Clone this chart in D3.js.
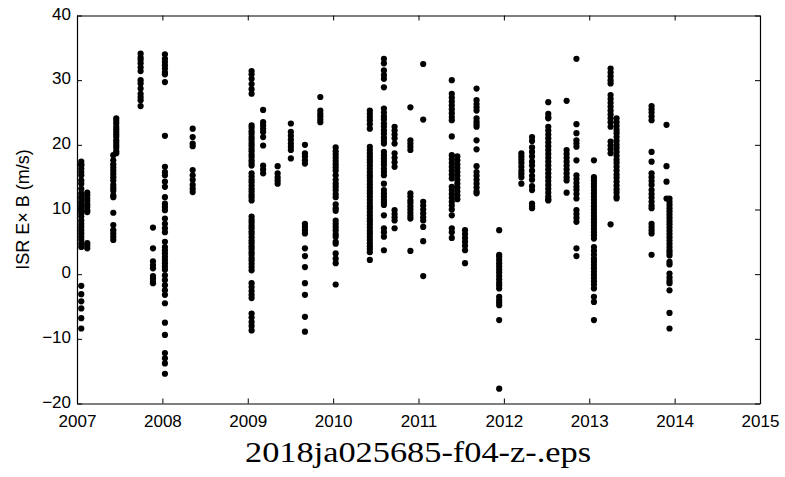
<!DOCTYPE html>
<html>
<head>
<meta charset="utf-8">
<script src="https://cdn.jsdelivr.net/npm/d3@7"></script>
<style>
  html, body { margin: 0; padding: 0; background: #fff; }
  svg { display: block; }
</style>
</head>
<body>
<svg id="chart" width="785" height="477"></svg>
<script>
// Observation campaigns: decimal-year epoch of each campaign
const epochs = [
  2007.05, 2007.12, 2007.425, 2007.46, 2007.745, 2007.89, 2008.03, 2008.355,
  2009.045, 2009.18, 2009.35, 2009.505, 2009.67, 2009.85, 2010.03, 2010.43,
  2010.595, 2010.72, 2010.905, 2011.055, 2011.39, 2011.455, 2011.545, 2011.68,
  2011.945, 2012.205, 2012.33, 2012.52, 2012.735, 2012.85, 2013.055, 2013.25,
  2013.32, 2013.73, 2013.905, 2013.94
];

// ISR E×B drift (m/s) measured during each campaign
const drifts = [
  [17.4, 17.0, 16.8, 16.3, 15.8, 15.3, 14.5, 14.0, 13.2, 12.5, 12.0, 11.7, 11.2, 10.9, 10.5, 10.2, 9.8, 9.4, 8.9, 8.3, 7.8, 7.3, 6.8, 6.3, 5.8, 5.3, 4.7, 4.2, -1.8, -3.1, -4.2, -5.3, -6.8, -8.4],
  [12.6, 12.2, 11.7, 11.3, 10.8, 10.4, 9.9, 9.6, 4.8, 4.4, 4.0],
  [18.4, 17.6, 17.0, 16.5, 16.0, 15.5, 15.0, 14.5, 13.8, 13.3, 12.9, 12.2, 11.9, 9.5, 7.6, 6.8, 6.3, 5.8, 5.3],
  [24.1, 23.7, 23.3, 22.8, 22.4, 22.0, 21.6, 21.2, 20.7, 20.3, 19.9, 19.5, 19.0, 18.7],
  [34.1, 33.5, 33.1, 32.6, 32.0, 31.4, 30.0, 29.5, 28.7, 27.9, 27.4, 26.9, 26.0],
  [7.2, 4.0, 2.0, 1.4, 0.9, -0.3, -0.7, -1.2, -1.4],
  [34.0, 33.3, 32.8, 32.3, 31.8, 31.2, 30.9, 29.7, 21.4, 16.6, 15.8, 15.3, 14.3, 13.5, 11.9, 10.9, 10.4, 9.9, 8.6, 7.8, 7.1, 6.5, 5.0, 4.2, 3.7, 3.2, 2.7, 2.2, 1.7, 1.2, 0.7, -0.2, -0.9, -1.7, -2.5, -3.2, -4.5, -7.5, -9.4, -12.2, -13.0, -13.8, -15.4],
  [22.5, 21.2, 20.2, 19.8, 16.1, 15.3, 14.6, 13.8, 13.2, 12.7],
  [31.4, 30.9, 30.2, 29.4, 28.6, 27.9, 23.0, 22.6, 22.1, 21.7, 21.2, 20.8, 20.3, 19.9, 19.4, 19.0, 18.5, 18.1, 17.6, 17.2, 16.8, 15.6, 15.1, 14.6, 14.2, 13.7, 13.2, 12.8, 12.3, 11.9, 11.4, 8.9, 8.4, 8.0, 7.5, 7.1, 6.6, 6.2, 5.7, 5.2, 4.8, 4.3, 3.9, 3.4, 3.0, 2.5, 2.1, 1.6, 1.1, 0.6, -1.4, -2.0, -2.6, -3.2, -3.7, -6.1, -6.7, -7.4, -8.0, -8.7],
  [25.4, 23.5, 23.0, 22.5, 22.0, 21.2, 19.9, 16.8, 16.2, 15.6],
  [16.7, 15.6, 15.0, 14.5, 14.0],
  [23.3, 22.0, 21.4, 20.8, 20.2, 19.7, 19.2, 17.9],
  [20.0, 18.7, 18.2, 17.6, 17.1, 7.8, 7.3, 6.8, 6.3, 4.0, 2.8, 1.1, -1.4, -3.2, -6.6, -8.9],
  [27.4, 25.3, 24.8, 24.4, 23.9, 23.5],
  [19.6, 19.0, 18.5, 18.0, 17.5, 17.0, 16.5, 16.0, 15.3, 14.6, 14.0, 13.5, 13.0, 12.4, 11.9, 10.8, 10.2, 9.8, 8.3, 7.8, 7.3, 6.8, 6.2, 5.8, 5.0, 4.7, 3.2, 2.4, 1.7, -1.6],
  [25.3, 24.8, 24.3, 23.8, 23.2, 22.5, 19.7, 19.2, 18.7, 18.2, 17.7, 17.3, 16.8, 16.3, 15.8, 15.3, 14.9, 14.4, 13.9, 13.4, 12.9, 12.5, 12.0, 11.5, 11.0, 10.5, 10.1, 9.6, 9.1, 8.6, 8.2, 7.7, 7.2, 6.7, 6.3, 5.8, 5.3, 4.8, 4.3, 3.9, 3.4, 2.2],
  [33.3, 32.6, 31.5, 30.8, 30.2, 28.9, 25.6, 25.0, 24.4, 23.9, 23.3, 22.8, 22.2, 21.7, 21.1, 20.6, 20.2, 18.9, 18.4, 17.9, 17.4, 16.9, 16.3, 15.8, 15.3, 14.0, 13.0, 12.5, 12.0, 11.5, 11.1, 10.7, 9.1, 7.1, 6.5, 5.8, 3.7],
  [22.8, 22.2, 21.6, 21.0, 20.2, 18.7, 18.0, 17.3, 16.6, 9.9, 9.3, 8.8, 8.3, 7.1],
  [25.8, 20.7, 20.2, 19.7, 19.2, 12.5, 12.0, 11.4, 11.0, 10.5, 10.0, 9.5, 9.0, 8.6, 3.6],
  [32.5, 23.9, 11.2, 10.6, 10.0, 9.4, 8.8, 8.3, 7.3, 5.1, -0.3],
  [30.0, 27.9, 27.3, 26.7, 26.1, 25.5, 24.9, 24.3, 23.8, 21.3, 18.4, 17.8, 17.2, 16.6, 16.0, 15.4, 14.8, 13.5, 13.0, 12.4, 11.8, 11.2, 10.6, 10.0, 9.1, 7.1, 6.5, 5.6],
  [18.2, 17.6, 17.0, 16.4, 15.8, 15.2, 14.6, 14.0, 13.4, 12.8, 12.2, 11.6],
  [6.8, 6.2, 5.6, 5.0, 4.4, 3.7, 1.7],
  [28.7, 26.9, 26.3, 25.8, 25.3, 24.1, 23.6, 23.2, 22.8, 20.7, 19.3, 16.7, 15.8, 15.2, 14.6, 14.0, 13.4, 12.8, 12.5],
  [6.8, 3.0, 2.7, 2.2, 1.7, 1.2, 0.7, 0.2, -0.3, -0.8, -1.3, -1.7, -2.2, -3.5, -4.0, -4.4, -4.8, -7.1, -17.7],
  [18.7, 18.2, 17.7, 17.2, 16.6, 16.0, 15.5, 15.0, 14.0],
  [21.2, 20.6, 19.6, 18.9, 18.2, 17.4, 16.8, 16.0, 15.2, 14.6, 13.6, 13.0, 10.9, 10.5, 10.2],
  [26.6, 24.8, 24.3, 24.1, 22.8, 22.2, 21.6, 21.0, 20.4, 19.8, 19.2, 18.6, 18.0, 17.4, 16.8, 16.2, 15.6, 15.0, 14.4, 13.8, 13.2, 12.6, 12.0, 11.6, 11.4],
  [26.8, 19.2, 18.6, 18.0, 17.4, 16.8, 16.2, 15.6, 15.0, 14.5, 12.6],
  [33.3, 23.2, 21.8, 20.7, 20.2, 19.7, 17.6, 15.3, 14.7, 14.1, 13.5, 13.0, 12.4, 11.7, 9.9, 9.3, 8.7, 8.1, 4.0, 2.8],
  [17.6, 15.0, 14.5, 14.0, 13.5, 13.0, 12.5, 12.0, 11.5, 11.0, 10.5, 10.0, 9.5, 9.0, 8.5, 8.0, 7.5, 7.0, 6.5, 6.0, 5.5, 4.2, 3.6, 3.0, 2.4, 1.9, 1.4, 0.9, 0.4, -0.1, -0.6, -1.1, -1.6, -2.2, -3.5, -4.3, -7.1],
  [31.8, 31.2, 30.6, 30.0, 29.5, 27.7, 27.1, 26.5, 25.9, 25.3, 24.7, 24.1, 23.5, 22.8, 20.5, 19.9, 19.3, 18.7, 7.7],
  [24.1, 23.5, 22.9, 22.3, 21.8, 21.2, 20.6, 20.0, 19.5, 18.9, 18.3, 17.7, 17.2, 16.6, 16.0, 15.4, 14.9, 14.3, 13.7, 13.1, 12.6, 12.0, 11.7],
  [26.0, 25.5, 25.0, 24.4, 23.8, 18.9, 17.4, 15.6, 15.0, 14.4, 13.8, 13.0, 12.4, 11.8, 11.2, 10.6, 10.2, 7.8, 7.3, 6.8, 6.3, 3.0],
  [23.1, 16.7, 14.3, 11.7],
  [11.7, 11.2, 10.7, 10.2, 9.7, 9.2, 8.7, 8.2, 7.7, 7.2, 6.7, 6.2, 5.7, 5.2, 4.7, 4.2, 3.7, 3.3, 2.9, 1.9, 1.5, 0.1, -0.5, -1.0, -1.4, -2.5, -6.0, -8.4]
];

// Axis ticks
const xTicks = [2007, 2008, 2009, 2010, 2011, 2012, 2013, 2014, 2015];
const yTicks = [-20, -10, 0, 10, 20, 30, 40];

const yLabel = "ISR E\u00d7 B (m/s)";
const caption = "2018ja025685-f04-z-.eps";

const margin = { left: 77, top: 15.5, right: 25, bottom: 73.5 };
const W = 785, H = 477;
const innerW = W - margin.left - margin.right;
const innerH = H - margin.top - margin.bottom;

const svg = d3.select("#chart");
const g = svg.append("g").attr("transform", `translate(${margin.left},${margin.top})`);

const x = d3.scaleLinear().domain([2007, 2015]).range([0, innerW]);
const y = d3.scaleLinear().domain([-20, 40]).range([innerH, 0]);

const points = epochs.flatMap((t, i) => drifts[i].map(v => ({ t, v })));

// Markers
g.append("g")
  .selectAll("circle")
  .data(points)
  .join("circle")
  .attr("cx", d => x(d.t))
  .attr("cy", d => y(d.v))
  .attr("r", 3.1)
  .attr("fill", "#000");

const tickFont = "'Liberation Sans', Arial, Helvetica, sans-serif";

// Axes with inward ticks on all four sides (boxed frame)
const fmt = d3.format("d");
const axB = g.append("g").attr("transform", `translate(0,${innerH})`)
  .call(d3.axisBottom(x).tickValues(xTicks).tickFormat(fmt).tickSizeInner(-5).tickSizeOuter(0).tickPadding(11));
const axT = g.append("g")
  .call(d3.axisTop(x).tickValues(xTicks).tickFormat("").tickSizeInner(-5).tickSizeOuter(0));
const axL = g.append("g")
  .call(d3.axisLeft(y).tickValues(yTicks).tickFormat(d3.format("d")).tickSizeInner(-5).tickSizeOuter(0).tickPadding(6));
const axR = g.append("g").attr("transform", `translate(${innerW},0)`)
  .call(d3.axisRight(y).tickValues(yTicks).tickFormat("").tickSizeInner(-5).tickSizeOuter(0));

[axB, axT, axL, axR].forEach(a => {
  a.selectAll("path.domain").attr("stroke", "#000").attr("stroke-width", 1.2);
  a.selectAll(".tick line").attr("stroke", "#000").attr("stroke-width", 1);
  a.selectAll("text").attr("fill", "#000").style("font-family", tickFont).style("font-size", "17px");
});
// Lift the y labels a touch so the lowest one clears the year labels
axL.selectAll(".tick text").attr("dy", "0.22em");

// Axis title
svg.append("text")
  .attr("transform", `translate(29,${margin.top + innerH / 2}) rotate(-90)`)
  .attr("text-anchor", "middle")
  .style("font-family", tickFont)
  .style("font-size", "18px")
  .attr("fill", "#000")
  .text(yLabel);

// File caption below the figure
svg.append("text")
  .attr("x", 418)
  .attr("y", 462)
  .attr("text-anchor", "middle")
  .attr("textLength", 346)
  .attr("lengthAdjust", "spacingAndGlyphs")
  .style("font-family", "'Liberation Serif', 'DejaVu Serif', serif")
  .style("font-size", "30px")
  .attr("fill", "#000")
  .text(caption);
</script>
</body>
</html>
